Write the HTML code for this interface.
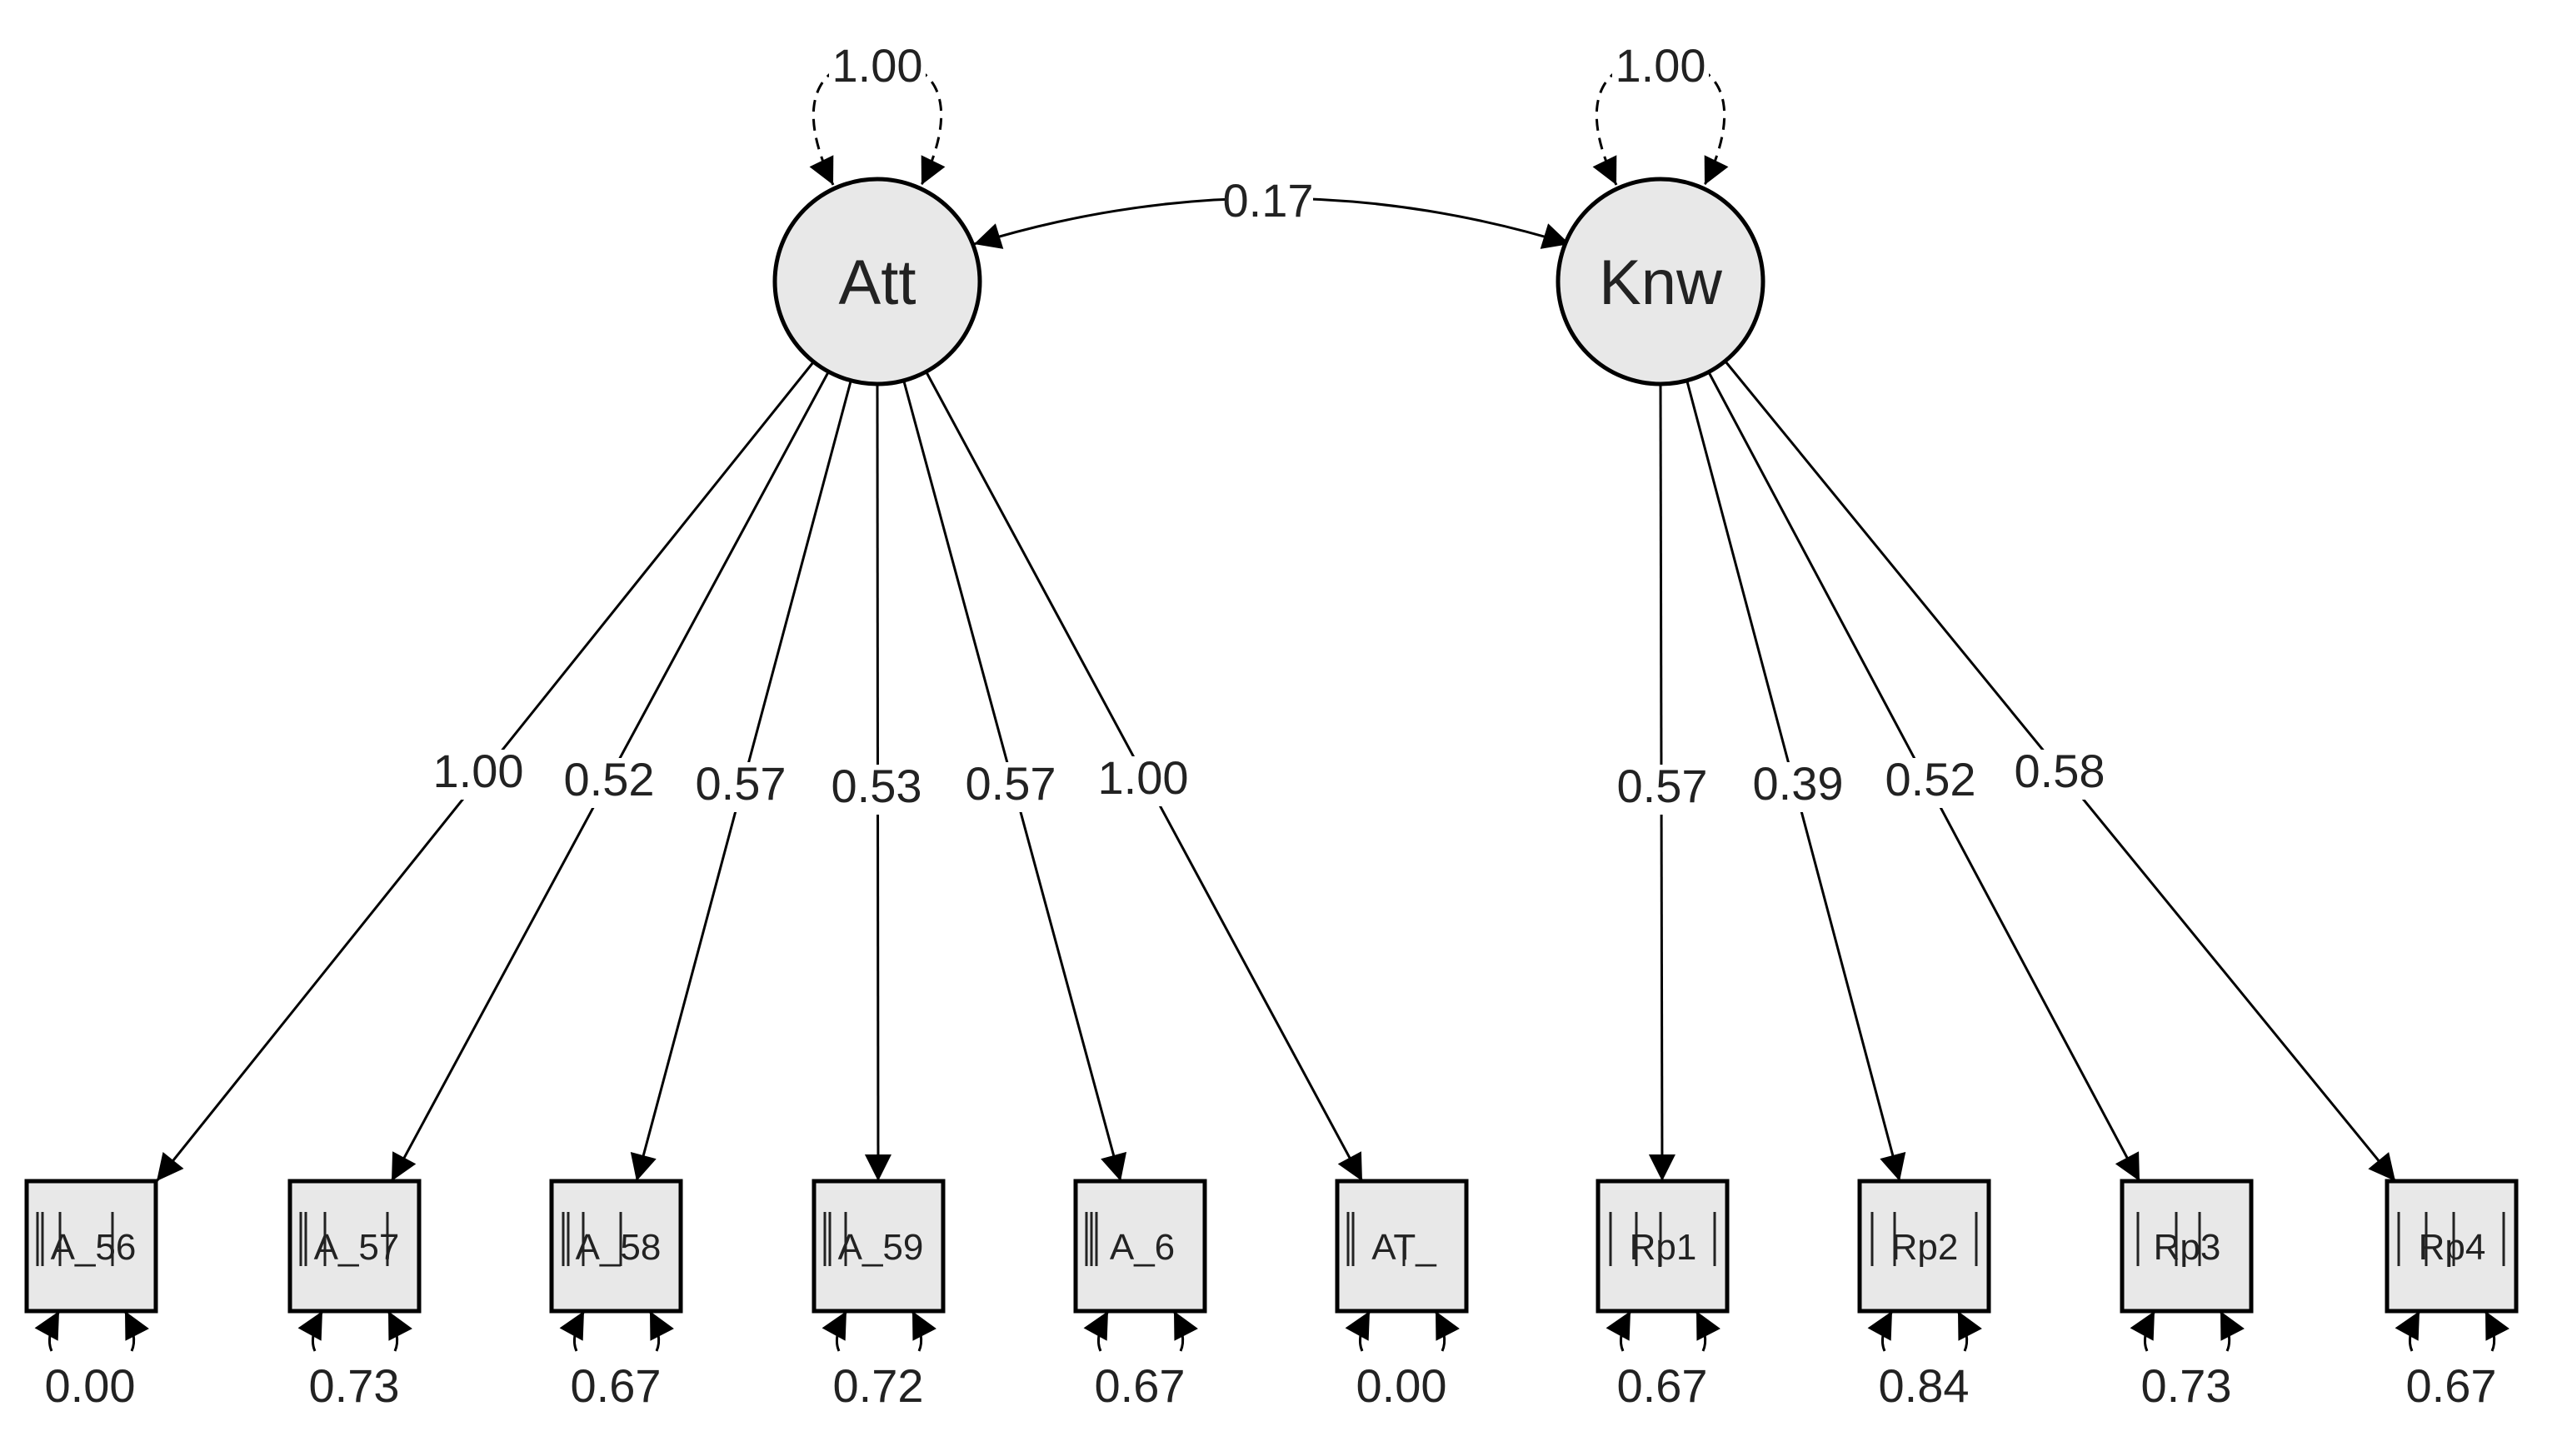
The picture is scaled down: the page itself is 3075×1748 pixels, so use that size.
<!DOCTYPE html>
<html><head><meta charset="utf-8"><style>
html,body{margin:0;padding:0;background:#fff;}
svg{display:block;}
text{font-family:"Liberation Sans",sans-serif;fill:#222;}
</style></head><body>
<svg width="3075" height="1748" viewBox="0 0 3075 1748" xmlns="http://www.w3.org/2000/svg">
<defs>
<marker id="a" viewBox="0 0 10 10" refX="10" refY="5" markerWidth="14" markerHeight="14" markerUnits="userSpaceOnUse" orient="auto-start-reverse">
<path d="M0,0 L10,5 L0,10 z" fill="#000"/></marker>
<marker id="b" viewBox="0 0 10 10" refX="10" refY="5" markerWidth="36" markerHeight="32" markerUnits="userSpaceOnUse" orient="auto-start-reverse">
<path d="M0,0 L10,5 L0,10 z" fill="#000"/></marker>
</defs>
<rect width="3075" height="1748" fill="#fff"/>

<!-- self loops -->
<path d="M1000,222 C955,130 975,72 1053,72 C1131,72 1151,130 1106,222" fill="none" stroke="#000" stroke-width="3" stroke-dasharray="14,9" marker-start="url(#b)" marker-end="url(#b)"/>
<path d="M1940,222 C1895,130 1915,72 1993,72 C2071,72 2091,130 2046,222" fill="none" stroke="#000" stroke-width="3" stroke-dasharray="14,9" marker-start="url(#b)" marker-end="url(#b)"/>
<rect x="995" y="52" width="116" height="56" fill="#fff"/>
<rect x="1935" y="52" width="116" height="56" fill="#fff"/>
<text x="1053" y="98" font-size="56" text-anchor="middle">1.00</text>
<text x="1993" y="98" font-size="56" text-anchor="middle">1.00</text>

<!-- covariance -->
<path d="M1169,293 Q1526,183 1884,293" fill="none" stroke="#000" stroke-width="3" marker-start="url(#b)" marker-end="url(#b)"/>
<rect x="1470" y="210" width="106" height="60" fill="#fff"/>
<text x="1522" y="260" font-size="56" text-anchor="middle">0.17</text>

<!-- loadings -->
<g stroke="#000" stroke-width="3" fill="none" marker-end="url(#b)">
<line x1="976" y1="435" x2="188" y2="1418"/>
<line x1="994" y1="447" x2="470" y2="1418"/>
<line x1="1021" y1="458" x2="764" y2="1418"/>
<line x1="1053" y1="462" x2="1054" y2="1418"/>
<line x1="1085" y1="458" x2="1345" y2="1418"/>
<line x1="1112" y1="447" x2="1635" y2="1418"/>
<line x1="1993" y1="462" x2="1995" y2="1418"/>
<line x1="2025" y1="458" x2="2280" y2="1418"/>
<line x1="2051" y1="447" x2="2568" y2="1418"/>
<line x1="2071" y1="434" x2="2875" y2="1418"/>
</g>
<g fill="#fff">
<rect x="518" y="900" width="112" height="60"/>
<rect x="675" y="910" width="112" height="60"/>
<rect x="833" y="915" width="112" height="60"/>
<rect x="996" y="918" width="112" height="60"/>
<rect x="1157" y="915" width="112" height="60"/>
<rect x="1316" y="908" width="112" height="60"/>
<rect x="1939" y="918" width="112" height="60"/>
<rect x="2102" y="915" width="112" height="60"/>
<rect x="2261" y="910" width="112" height="60"/>
<rect x="2416" y="900" width="112" height="60"/>
</g>
<g font-size="56" text-anchor="middle">
<text x="574" y="945">1.00</text>
<text x="731" y="955">0.52</text>
<text x="889" y="960">0.57</text>
<text x="1052" y="963">0.53</text>
<text x="1213" y="960">0.57</text>
<text x="1372" y="953">1.00</text>
<text x="1995" y="963">0.57</text>
<text x="2158" y="960">0.39</text>
<text x="2317" y="955">0.52</text>
<text x="2472" y="945">0.58</text>
</g>

<!-- latent nodes -->
<circle cx="1053" cy="338" r="123" fill="#e8e8e8" stroke="#000" stroke-width="5"/>
<circle cx="1993" cy="338" r="123" fill="#e8e8e8" stroke="#000" stroke-width="5"/>
<text x="1053" y="365" font-size="76" text-anchor="middle">Att</text>
<text x="1993" y="365" font-size="76" text-anchor="middle">Knw</text>

<!-- observed nodes -->
<g stroke="#000" stroke-width="5" fill="#e8e8e8">
<rect x="32" y="1418" width="155" height="156"/>
<rect x="348" y="1418" width="155" height="156"/>
<rect x="662" y="1418" width="155" height="156"/>
<rect x="977" y="1418" width="155" height="156"/>
<rect x="1291" y="1418" width="155" height="156"/>
<rect x="1605" y="1418" width="155" height="156"/>
<rect x="1918" y="1418" width="155" height="156"/>
<rect x="2232" y="1418" width="155" height="156"/>
<rect x="2547" y="1418" width="155" height="156"/>
<rect x="2865" y="1418" width="155" height="156"/>
</g>
<g font-size="44" text-anchor="middle">
<text x="112" y="1512">A_56</text>
<text x="428" y="1512">A_57</text>
<text x="742" y="1512">A_58</text>
<text x="1057" y="1512">A_59</text>
<text x="1371" y="1512">A_6</text>
<text x="1685" y="1512">AT_</text>
<text x="1996" y="1512">Rp1</text>
<text x="2310" y="1512">Rp2</text>
<text x="2625" y="1512">Rp3</text>
<text x="2943" y="1512">Rp4</text>
</g>
<g stroke="#222" stroke-width="3">
<path d="M45,1455v65M51,1455v65M72,1455v65M135,1455v65"/>
<path d="M361,1455v65M367,1455v65M390,1455v65M465,1455v65"/>
<path d="M676,1455v65M682,1455v65M700,1455v65M745,1455v65"/>
<path d="M990,1455v65M996,1455v65M1015,1455v65"/>
<path d="M1304,1455v65M1310,1455v65M1316,1455v65"/>
<path d="M1618,1455v65M1624,1455v65M1685,1490v30"/>
<path d="M1933,1455v65M1964,1455v65M1993,1455v65M2058,1455v65"/>
<path d="M2247,1455v65M2274,1455v65M2372,1455v65"/>
<path d="M2566,1455v65M2612,1455v65M2640,1455v65"/>
<path d="M2879,1455v65M2912,1455v65M2945,1455v65M3005,1455v65"/>
</g>

<!-- residual variances -->
<g stroke="#000" stroke-width="3" fill="none" marker-end="url(#b)">
<path d="M62,1622 Q54,1605 71,1574"/>
<path d="M158,1622 Q166,1605 150,1574"/>
<path d="M378,1622 Q370,1605 387,1574"/>
<path d="M474,1622 Q482,1605 466,1574"/>
<path d="M692,1622 Q684,1605 701,1574"/>
<path d="M788,1622 Q796,1605 780,1574"/>
<path d="M1007,1622 Q999,1605 1016,1574"/>
<path d="M1103,1622 Q1111,1605 1095,1574"/>
<path d="M1321,1622 Q1313,1605 1330,1574"/>
<path d="M1417,1622 Q1425,1605 1409,1574"/>
<path d="M1635,1622 Q1627,1605 1644,1574"/>
<path d="M1731,1622 Q1739,1605 1723,1574"/>
<path d="M1948,1622 Q1940,1605 1957,1574"/>
<path d="M2044,1622 Q2052,1605 2036,1574"/>
<path d="M2262,1622 Q2254,1605 2271,1574"/>
<path d="M2358,1622 Q2366,1605 2350,1574"/>
<path d="M2577,1622 Q2569,1605 2586,1574"/>
<path d="M2673,1622 Q2681,1605 2665,1574"/>
<path d="M2895,1622 Q2887,1605 2904,1574"/>
<path d="M2991,1622 Q2999,1605 2983,1574"/>
</g>
<g font-size="56" text-anchor="middle">
<text x="108" y="1683">0.00</text>
<text x="425" y="1683">0.73</text>
<text x="739" y="1683">0.67</text>
<text x="1054" y="1683">0.72</text>
<text x="1368" y="1683">0.67</text>
<text x="1682" y="1683">0.00</text>
<text x="1995" y="1683">0.67</text>
<text x="2309" y="1683">0.84</text>
<text x="2624" y="1683">0.73</text>
<text x="2942" y="1683">0.67</text>
</g>
</svg>
</body></html>
